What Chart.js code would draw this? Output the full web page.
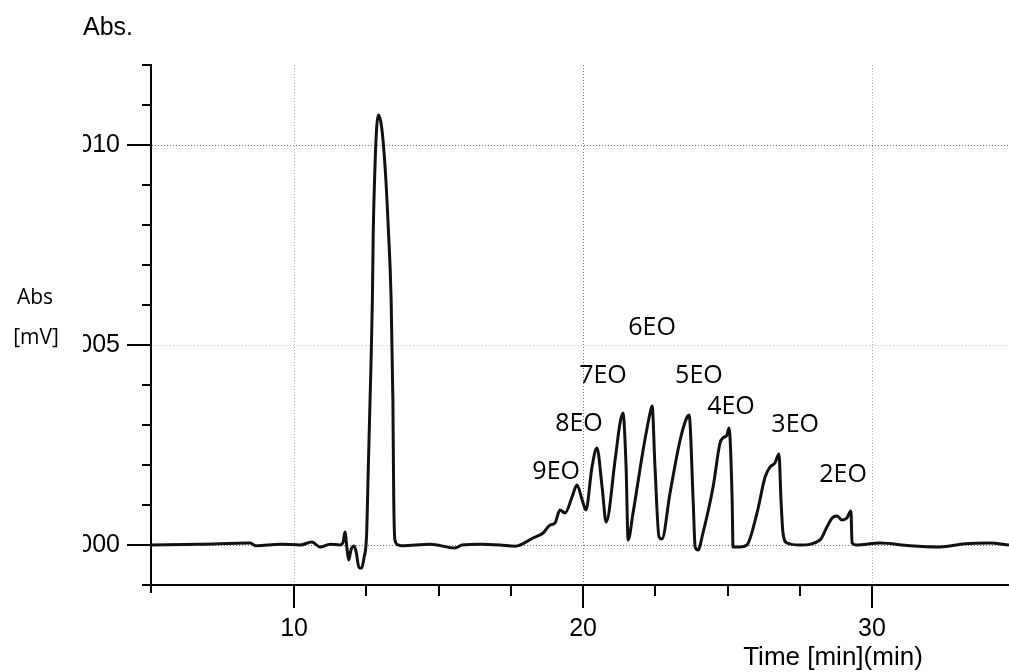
<!DOCTYPE html>
<html>
<head>
<meta charset="utf-8">
<title>Chromatogram</title>
<script src="https://cdn.jsdelivr.net/npm/chart.js@4.4.1/dist/chart.umd.min.js"></script>
<style>
  html, body { margin: 0; padding: 0; background: #fff; }
  #wrap { width: 1009px; height: 672px; position: relative; }
</style>
</head>
<body>
<div id="wrap"><canvas id="chart" width="1009" height="672"></canvas></div>
<script>
// Retention time (min)
const timeMin = [
  5.05, 6.75, 8.48, 8.69, 9.52, 10.21, 10.62, 10.90, 11.25, 11.59,
  11.70, 11.76, 11.83, 11.89, 11.97, 12.08, 12.15, 12.25, 12.34, 12.42,
  12.51, 12.57, 12.63, 12.66, 12.71, 12.74, 12.80, 12.86, 12.92, 13.03,
  13.15, 13.26, 13.36, 13.42, 13.45, 13.49, 13.61, 13.74, 14.71, 15.57,
  15.81, 16.44, 17.13, 17.65, 18.27, 18.62, 18.86, 19.03, 19.20, 19.38,
  19.62, 19.79, 19.97, 20.10, 20.31, 20.48, 20.66, 20.80, 21.11, 21.28,
  21.38, 21.49, 21.56, 21.73, 22.08, 22.32, 22.39, 22.49, 22.63, 22.73,
  23.01, 23.36, 23.60, 23.67, 23.81, 23.88, 23.98, 24.15, 24.50, 24.74,
  24.84, 24.98, 25.05, 25.16, 25.19, 25.43, 25.67, 26.02, 26.30, 26.47,
  26.64, 26.78, 26.85, 26.92, 27.06, 27.51, 28.20, 28.44, 28.62, 28.79,
  28.96, 29.13, 29.27, 29.31, 29.45, 30.28, 31.31, 32.35, 33.22, 34.08,
  34.74
];

// Detector signal
const absValue = [
  0.00000, 0.00002, 0.00005, -0.00002, 0.00002, 0.00000, 0.000075, -0.00005, 0.00002, 0.00000,
  0.000075, 0.000325, -0.000075, -0.000375, -0.000125, -0.000025, -0.000175, -0.000575, -0.000575, -0.000325,
  0.00025, 0.00195, 0.003625, 0.00445, 0.006125, 0.0078, 0.00945, 0.01045, 0.01075, 0.01045,
  0.00945, 0.00795, 0.006125, 0.003625, 0.001125, 0.000125, 0.00000, -0.00002, 0.00002, -0.000075,
  0.00000, 0.00002, 0.00000, -0.00003, 0.000175, 0.0003, 0.0005, 0.00055, 0.000875, 0.0008,
  0.0012, 0.0015, 0.001125, 0.000875, 0.00195, 0.002425, 0.00145, 0.000575, 0.002125, 0.00305,
  0.0033, 0.00195, 0.000125, 0.0008, 0.002375, 0.0033, 0.003475, 0.00195, 0.0002, 0.00015,
  0.0013, 0.002625, 0.0032, 0.00325, 0.001125, -0.00005, -0.000125, 0.0003, 0.00145, 0.00255,
  0.002675, 0.00275, 0.002925, 0.001125, -0.00005, -0.00005, 0.00000, 0.0008, 0.0017, 0.00195,
  0.00205, 0.002275, 0.001125, 0.0003, 0.00005, 0.00000, 0.000125, 0.00045, 0.000675, 0.000725,
  0.000625, 0.000675, 0.00085, 0.00005, 0.00000, 0.00005, -0.00002, -0.00005, 0.00003, 0.00005,
  0.00000
];

// Oligomer peak names and where each name sits (time, signal)
const peakNames = ['9EO', '8EO', '7EO', '6EO', '5EO', '4EO', '3EO', '2EO'];
const peakNameTime = [19.07, 19.86, 20.69, 22.39, 24.01, 25.12, 27.34, 29.00];
const peakNameAbs = [0.001825, 0.003025, 0.004225, 0.005425, 0.004225, 0.00345, 0.0030, 0.00175];

// Axis ranges and tick spacing
const xRange = [5.05, 34.74];
const yRange = [-0.001, 0.012];
const xMinorStep = 2.5;
const xMajorStep = 10;
const yMinorStep = 0.001;
const yMajorStep = 0.005;

const onStep = (v, step) => Math.abs(v / step - Math.round(v / step)) < 1e-6;

const tickFont = { family: "'Liberation Sans', Arial, sans-serif", size: 25 };

// Tick marks, axis captions and peak names
const decorations = {
  id: 'decorations',
  afterDraw(chart) {
    const { ctx, chartArea, scales } = chart;
    const xs = scales.x, ys = scales.y;
    ctx.save();

    // hide the leading part of the y tick labels
    ctx.fillStyle = '#fff';
    ctx.fillRect(48, 125, 35, 440);

    ctx.strokeStyle = '#000';
    ctx.lineWidth = 2;
    ctx.beginPath();
    xs.ticks.forEach(t => {
      if (!onStep(t.value, xMinorStep)) return;
      const px = Math.round(xs.getPixelForValue(t.value));
      const len = onStep(t.value, xMajorStep) ? 23 : 11;
      ctx.moveTo(px, chartArea.bottom);
      ctx.lineTo(px, chartArea.bottom + len);
    });
    ys.ticks.forEach(t => {
      if (!onStep(t.value, yMinorStep)) return;
      const py = Math.round(ys.getPixelForValue(t.value));
      const len = onStep(t.value, yMajorStep) ? 24 : 9;
      ctx.moveTo(chartArea.left - len, py);
      ctx.lineTo(chartArea.left, py);
    });
    // y axis runs a little past the x axis
    ctx.moveTo(chartArea.left, chartArea.bottom);
    ctx.lineTo(chartArea.left, chartArea.bottom + 8);
    ctx.stroke();

    ctx.fillStyle = '#000';
    ctx.font = "25px 'Liberation Sans', Arial, sans-serif";
    ctx.textAlign = 'left';
    ctx.textBaseline = 'alphabetic';
    ctx.fillText('Abs.', 83, 35);

    ctx.font = "26px 'Liberation Sans', Arial, sans-serif";
    ctx.textAlign = 'center';
    ctx.fillText('Time [min](min)', 833, 665);

    ctx.font = "21px 'Open Sans', 'Noto Sans', sans-serif";
    ctx.textBaseline = 'middle';
    ctx.fillText('Abs', 35, 298);
    ctx.fillText('[mV]', 36, 338);

    ctx.font = "25px 'Open Sans', 'Noto Sans', sans-serif";
    peakNames.forEach((name, i) => {
      ctx.fillText(name, xs.getPixelForValue(peakNameTime[i]), ys.getPixelForValue(peakNameAbs[i]));
    });
    ctx.restore();
  }
};

const gridColor = (step, strong, faint) => ctx => {
  if (!ctx.tick) return 'transparent';
  const v = ctx.tick.value;
  if (!onStep(v, step)) return 'transparent';
  return Math.abs(v) < 1e-9 || onStep(v, step * 2) ? strong : faint;
};

new Chart(document.getElementById('chart'), {
  type: 'line',
  data: {
    datasets: [{
      data: timeMin.map((t, i) => ({ x: t, y: absValue[i] })),
      borderColor: '#111',
      borderWidth: 3,
      pointRadius: 0,
      fill: false,
      cubicInterpolationMode: 'monotone'
    }]
  },
  options: {
    responsive: false,
    animation: false,
    layout: { padding: { top: 65, right: 0, left: 0, bottom: 0 } },
    plugins: { legend: { display: false }, tooltip: { enabled: false } },
    scales: {
      x: {
        type: 'linear',
        min: xRange[0],
        max: xRange[1],
        afterFit: s => {
          s.height = 87;
          s.paddingLeft = 0;
          s.paddingRight = 0;
        },
        ticks: {
          stepSize: xMinorStep,
          autoSkip: false,
          maxRotation: 0,
          padding: 29,
          color: '#000',
          font: tickFont,
          callback: v => onStep(v, xMajorStep) ? String(Math.round(v)) : ''
        },
        grid: {
          drawTicks: false,
          lineWidth: 1,
          color: gridColor(xMajorStep, '#777', '#aaa')
        },
        border: { display: true, color: '#000', width: 2, dash: [1, 2] }
      },
      y: {
        type: 'linear',
        min: yRange[0],
        max: yRange[1],
        afterFit: s => {
          s.width = 151;
          s.paddingTop = 0;
          s.paddingBottom = 0;
        },
        ticks: {
          stepSize: yMinorStep,
          autoSkip: false,
          padding: 31,
          color: '#000',
          font: tickFont,
          callback: v => onStep(v, yMajorStep) ? v.toFixed(3) : ''
        },
        grid: {
          drawTicks: false,
          lineWidth: 1,
          color: gridColor(yMajorStep, '#777', '#ccc')
        },
        border: { display: true, color: '#000', width: 2, dash: [1, 2] }
      }
    }
  },
  plugins: [decorations]
});
</script>
</body>
</html>
